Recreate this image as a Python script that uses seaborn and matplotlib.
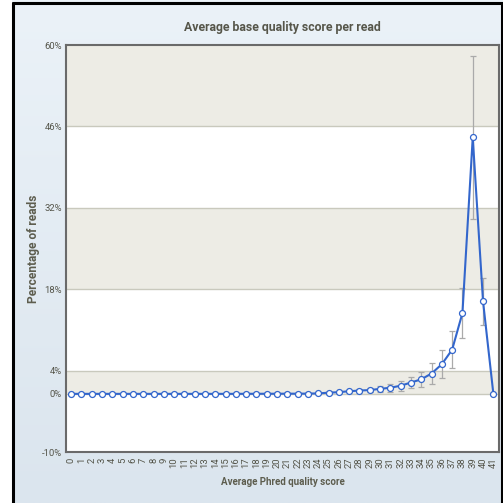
import matplotlib
matplotlib.use("Agg")
import matplotlib.pyplot as plt
import seaborn as sns
import pandas as pd
import numpy as np
from matplotlib.patches import Rectangle
from matplotlib.lines import Line2D
from matplotlib.colors import LinearSegmentedColormap

# ---- data ----
scores = list(range(42))
percent = [0.0, 0.0, 0.0, 0.0, 0.0, 0.0, 0.0, 0.0, 0.0, 0.0,
           0.0, 0.0, 0.0, 0.0, 0.0, 0.0, 0.0, 0.01, 0.01, 0.02,
           0.02, 0.03, 0.03, 0.04, 0.08, 0.2, 0.3, 0.45, 0.57, 0.65,
           0.86, 1.05, 1.4, 1.95, 2.5, 3.5, 5.1, 7.6, 13.9, 44.1,
           15.9, 0.05]
errors = [0.0, 0.0, 0.0, 0.0, 0.0, 0.0, 0.0, 0.0, 0.0, 0.0,
          0.0, 0.0, 0.0, 0.0, 0.0, 0.0, 0.0, 0.0, 0.0, 0.0,
          0.0, 0.0, 0.0, 0.0, 0.0, 0.05, 0.08, 0.1, 0.2, 0.3,
          0.5, 0.7, 0.85, 1.0, 1.3, 1.8, 2.4, 3.2, 4.3, 14.0,
          4.1, 0.0]
y_ticks = [-10, 0, 4, 18, 32, 46, 60]
title = "Average base quality score per read"
xlabel = "Average Phred quality score"
ylabel = "Percentage of reads"

df = pd.DataFrame({"score": scores, "percent": percent, "err": errors})

sns.set_theme(style="white")
plt.rcParams["font.family"] = ["Roboto", "DejaVu Sans"]

W = H = 503
fig = plt.figure(figsize=(W / 100, H / 100), dpi=100)
fig.patch.set_facecolor("#e3ebf2")

# background gradient
bg = fig.add_axes([0, 0, 1, 1], zorder=-10)
grad = np.linspace(0, 1, 256).reshape(-1, 1)
cmap = LinearSegmentedColormap.from_list("bg", ["#ebf2f8", "#dbe5ee"])
bg.imshow(grad, aspect="auto", cmap=cmap, extent=[0, 1, 0, 1], origin="upper")
bg.set_axis_off()

# outer frame decorations (white margin + black border)
fig.patches.append(Rectangle((0, 0), 12 / W, 1, transform=fig.transFigure,
                             facecolor="white", edgecolor="none", zorder=5))
for xs, ys in [([12.5 / W, 12.5 / W], [0, 1 - 2.5 / H]),
               ([12.5 / W, 1], [1 - 2.5 / H, 1 - 2.5 / H]),
               ([501.5 / W, 501.5 / W], [0, 1 - 2.5 / H])]:
    fig.lines.append(Line2D(xs, ys, transform=fig.transFigure,
                            color="black", linewidth=2.2, zorder=6))

ax = fig.add_axes([66 / W, 1 - 452 / H, (499 - 66) / W, (452 - 45) / H])
ax.set_facecolor("white")

# alternating bands between ticks
band_color = "#edece5"
for i in range(len(y_ticks) - 1):
    lo, hi = y_ticks[i], y_ticks[i + 1]
    if (len(y_ticks) - 2 - i) % 2 == 0:
        ax.axhspan(lo, hi, color=band_color, zorder=0, linewidth=0)
for t in y_ticks[1:-1]:
    ax.axhline(t, color="#c9c9bd", linewidth=1.0, zorder=0.5)

# error bars
ax.errorbar(df["score"], df["percent"], yerr=df["err"], fmt="none",
            ecolor="#aaaaaa", elinewidth=0.9, capsize=2.5, capthick=0.9,
            zorder=1)

sns.lineplot(data=df, x="score", y="percent", ax=ax, color="#3366cc",
             linewidth=1.5, marker="o", markersize=4.3,
             markerfacecolor="white", markeredgecolor="#3366cc",
             markeredgewidth=0.9, zorder=3)

ax.set_xlim(-0.5, 41.55)
ax.set_ylim(-10, 60)
ax.set_yticks(y_ticks)
ax.set_yticklabels([f"{t}%" for t in y_ticks])
ax.set_xticks(scores)
ax.set_xticklabels([str(s) for s in scores], rotation=90)
ax.tick_params(axis="both", length=0, labelsize=6.8, colors="#55554a", pad=3)
ax.tick_params(axis="x", pad=4)

for s in ax.spines.values():
    s.set_color("#6a6a6a")
    s.set_linewidth(1.5)
    s.set_visible(True)

ax.set_xlabel(xlabel, fontsize=7, fontweight="bold", color="#5d5d4e")
ax.xaxis.set_label_coords(0.5, -(482 - 452) / 407, transform=ax.transAxes)
ax.set_ylabel(ylabel, fontsize=8.6, fontweight="bold", color="#5d5d4e")
ax.yaxis.set_label_coords(-(66 - 33) / 433, 0.5, transform=ax.transAxes)
ax.xaxis.label.set_va("center")
ax.yaxis.label.set_va("center")
fig.text(282 / W, 1 - 28 / H, title, ha="center", va="center",
         fontsize=8.8, fontweight="bold", color="#56564a")

fig.savefig("out.png", dpi=100, facecolor=fig.get_facecolor())
